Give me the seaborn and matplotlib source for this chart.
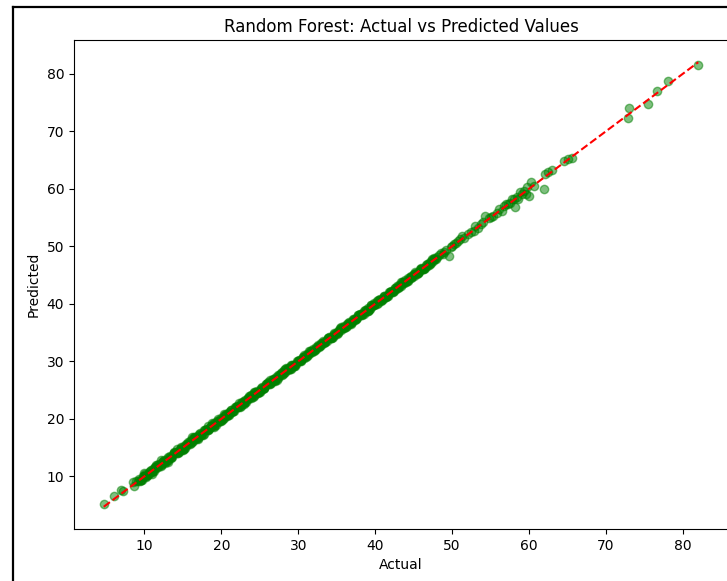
import matplotlib
matplotlib.use("Agg")
import matplotlib.pyplot as plt
from matplotlib.lines import Line2D
import seaborn as sns
import pandas as pd

actual = [
    4.7, 6.1, 7.0, 7.2, 8.5, 8.7, 8.9,
    9.3, 9.7, 10.1, 10.5, 10.9, 11.2, 11.6, 12.1, 12.4, 12.9,
    13.3, 13.6, 14.1, 14.5, 14.8, 15.3, 15.7, 16.0, 16.5, 16.9,
    17.2, 17.7, 18.1, 18.4, 18.9, 19.3, 19.6, 20.1, 20.5, 20.8,
    21.3, 21.7, 22.0, 22.5, 22.9, 23.2, 23.7, 24.1, 24.4, 24.9,
    25.3, 25.6, 26.1, 26.5, 26.8, 27.3, 27.7, 28.0, 28.5, 28.9,
    29.2, 29.7, 30.1, 30.4, 30.9, 31.3, 31.6, 32.1, 32.5, 32.8,
    33.3, 33.7, 34.0, 34.5, 34.9, 35.2, 35.7, 36.1, 36.4, 36.9,
    37.3, 37.6, 38.1, 38.5, 38.8, 39.3, 39.7, 40.0, 40.5, 40.9,
    41.2, 41.7, 42.1, 42.4, 42.9, 43.3, 43.6, 44.1, 44.5, 44.8,
    45.3, 45.7, 46.0, 46.5, 46.9, 47.2, 47.7,
    9.5, 9.9, 10.3, 10.7, 11.1, 11.4, 11.8, 12.3, 12.6, 13.1,
    13.5, 13.8, 14.3, 14.7, 15.0, 15.5, 15.9, 16.2, 16.7, 17.1,
    17.4, 17.9, 18.3, 18.6, 19.1, 19.5, 19.8, 20.3, 20.7, 21.0,
    21.5, 21.9, 22.2, 22.7, 23.1, 23.4, 23.9, 24.3, 24.6, 25.1,
    25.5, 25.8, 26.3, 26.7, 27.0, 27.5, 27.9, 28.2, 28.7, 29.1,
    29.4, 29.9, 30.3, 30.6, 31.1, 31.5, 31.8, 32.3, 32.7, 33.0,
    33.5, 33.9, 34.2, 34.7, 35.1, 35.4, 35.9, 36.3, 36.6, 37.1,
    37.5, 37.8, 38.3, 38.7, 39.0, 39.5, 39.9, 40.2, 40.7, 41.1,
    41.4, 41.9, 42.3, 42.6, 43.1, 43.5, 43.8, 44.3, 44.7, 45.0,
    45.5, 45.9, 46.2, 46.7, 47.1, 47.4, 47.9,
    9.1, 9.5, 9.9, 10.3, 10.7, 11.1, 11.5, 11.9, 12.3, 12.7,
    13.1, 13.5, 13.9, 14.3, 14.7, 15.1, 15.5, 15.9, 16.3, 16.7,
    17.1, 17.5, 17.9, 18.3, 18.7, 19.1, 19.5, 19.9, 20.3, 20.7,
    21.1, 21.5, 21.9, 22.3, 22.7, 23.1, 23.5, 23.9, 24.3, 24.7,
    25.1, 25.5, 25.9, 26.3, 26.7, 27.1, 27.5, 27.9, 28.3, 28.7,
    29.1, 29.5, 29.9, 30.3, 30.7, 31.1, 31.5, 31.9, 32.3, 32.7,
    33.1, 33.5, 33.9, 34.3, 34.7, 35.1, 35.5, 35.9, 36.3, 36.7,
    37.1, 37.5, 37.9, 38.3, 38.7, 39.1, 39.5, 39.9, 40.3, 40.7,
    41.1, 41.5, 41.9, 42.3, 42.7, 43.1, 43.5, 43.9, 44.3, 44.7,
    45.1, 45.5, 45.9, 46.3, 46.7, 47.1, 47.5,
    9.4, 9.8, 10.2, 10.6, 11.0, 11.4, 11.8, 12.2, 12.6, 13.0,
    13.4, 13.8, 14.2, 14.6, 15.0, 15.4, 15.8, 16.2, 16.6, 17.0,
    17.4, 17.8, 18.2, 18.6, 19.0, 19.4, 19.8, 20.2, 20.6, 21.0,
    21.4, 21.8, 22.2, 22.6, 23.0, 23.4, 23.8, 24.2, 24.6, 25.0,
    25.4, 25.8, 26.2, 26.6, 27.0, 27.4, 27.8, 28.2, 28.6, 29.0,
    29.4, 29.8, 30.2, 30.6, 31.0, 31.4, 31.8, 32.2, 32.6, 33.0,
    33.4, 33.8, 34.2, 34.6, 35.0, 35.4, 35.8, 36.2, 36.6, 37.0,
    37.4, 37.8, 38.2, 38.6, 39.0, 39.4, 39.8, 40.2, 40.6, 41.0,
    41.4, 41.8, 42.2, 42.6, 43.0, 43.4, 43.8, 44.2, 44.6, 45.0,
    45.4, 45.8, 46.2, 46.6, 47.0, 47.4, 47.8,
    9.9, 11.0, 12.2, 13.0, 14.2, 15.0, 16.2, 17.0, 18.3, 19.0,
    20.3, 21.0, 22.3, 23.0, 24.3, 25.0, 26.3, 27.0, 28.3, 29.0,
    10.2, 11.5, 12.7, 13.9, 15.1, 16.4, 17.6, 18.8, 20.0, 21.2,
    22.4, 23.6, 24.8, 26.0, 27.2, 28.4, 29.6, 30.8, 32.0, 33.2,
    34.4, 35.6, 36.8, 38.0, 39.2, 40.4, 41.6, 42.8, 44.0, 45.2,
    46.4, 47.6, 48.0,
    48.3, 48.8, 49.2, 49.6, 50.0, 50.3, 50.8, 51.3, 51.6, 52.4,
    53.0, 53.3, 54.0, 54.3, 54.8, 55.3, 56.1, 56.5, 57.0, 57.5,
    57.8, 58.2, 58.4, 58.8, 59.1, 59.6, 59.7, 60.0, 60.3, 60.6,
    61.9, 62.1, 62.5, 63.0, 64.5, 65.0, 65.6,
    48.6, 49.0, 49.9, 50.5, 51.0, 52.0, 52.8, 53.8, 55.0, 55.8,
    56.8, 57.3, 58.0, 58.6, 59.3,
    72.9, 73.0, 75.4, 76.6, 78.1, 82.0,
]
predicted = [
    5.2, 6.5, 7.6, 7.4, 9.0, 8.3, 9.2,
    9.5, 9.4, 10.4, 10.2, 11.1, 10.9, 11.9, 11.8, 12.7, 12.6,
    13.5, 13.3, 14.3, 14.2, 15.1, 15.0, 15.9, 15.8, 16.7, 16.6,
    17.5, 17.4, 18.3, 18.2, 19.1, 19.0, 19.9, 19.8, 20.7, 20.6,
    21.5, 21.4, 22.3, 22.2, 23.1, 23.0, 23.9, 23.8, 24.6, 24.7,
    25.5, 25.4, 26.3, 26.2, 27.0, 27.1, 27.9, 27.8, 28.7, 28.6,
    29.4, 29.5, 30.2, 30.3, 31.0, 31.1, 31.8, 31.9, 32.6, 32.7,
    33.4, 33.5, 34.2, 34.3, 35.0, 35.1, 35.8, 35.9, 36.6, 36.7,
    37.4, 37.5, 38.2, 38.3, 39.0, 39.1, 39.8, 39.9, 40.6, 40.7,
    41.4, 41.5, 42.2, 42.3, 43.0, 43.1, 43.8, 43.9, 44.6, 44.7,
    45.4, 45.5, 46.2, 46.3, 47.0, 47.1, 47.8,
    9.3, 10.1, 10.2, 10.9, 10.9, 11.7, 11.6, 12.5, 12.4, 13.3,
    13.3, 14.1, 14.1, 14.9, 14.8, 15.7, 15.7, 16.4, 16.5, 17.3,
    17.2, 18.1, 18.1, 18.8, 18.9, 19.7, 19.6, 20.5, 20.5, 21.2,
    21.3, 22.1, 22.0, 22.9, 22.9, 23.6, 23.7, 24.5, 24.4, 25.3,
    25.3, 26.0, 26.1, 26.9, 26.8, 27.7, 27.7, 28.4, 28.5, 29.3,
    29.2, 30.1, 30.1, 30.8, 30.9, 31.7, 31.6, 32.5, 32.5, 33.2,
    33.3, 34.1, 34.0, 34.9, 34.9, 35.6, 35.7, 36.5, 36.4, 37.3,
    37.3, 38.0, 38.1, 38.9, 38.8, 39.7, 39.7, 40.4, 40.5, 41.3,
    41.2, 42.1, 42.1, 42.8, 42.9, 43.7, 43.6, 44.5, 44.5, 45.2,
    45.3, 46.1, 46.0, 46.9, 46.9, 47.6, 47.7,
    9.2, 9.4, 10.1, 10.3, 10.5, 11.2, 11.4, 12.1, 12.1, 12.7,
    13.2, 13.4, 14.1, 14.3, 14.5, 15.2, 15.4, 16.1, 16.1, 16.7,
    17.2, 17.4, 18.1, 18.3, 18.5, 19.2, 19.4, 20.1, 20.1, 20.7,
    21.2, 21.4, 22.1, 22.3, 22.5, 23.2, 23.4, 24.1, 24.1, 24.7,
    25.2, 25.4, 26.1, 26.3, 26.5, 27.2, 27.4, 28.1, 28.1, 28.7,
    29.2, 29.4, 30.1, 30.3, 30.5, 31.2, 31.4, 32.1, 32.1, 32.7,
    33.2, 33.4, 34.1, 34.3, 34.5, 35.2, 35.4, 36.1, 36.1, 36.7,
    37.2, 37.4, 38.1, 38.3, 38.5, 39.2, 39.4, 40.1, 40.1, 40.7,
    41.2, 41.4, 42.1, 42.3, 42.5, 43.2, 43.4, 44.1, 44.1, 44.7,
    45.2, 45.4, 46.1, 46.3, 46.5, 47.2, 47.4,
    9.1, 10.1, 10.1, 10.7, 10.7, 11.7, 11.8, 12.0, 12.8, 12.9,
    13.1, 14.1, 14.1, 14.7, 14.7, 15.7, 15.8, 16.0, 16.8, 16.9,
    17.1, 18.1, 18.1, 18.7, 18.7, 19.7, 19.8, 20.0, 20.8, 20.9,
    21.1, 22.1, 22.1, 22.7, 22.7, 23.7, 23.8, 24.0, 24.8, 24.9,
    25.1, 26.1, 26.1, 26.7, 26.7, 27.7, 27.8, 28.0, 28.8, 28.9,
    29.1, 30.1, 30.1, 30.7, 30.7, 31.7, 31.8, 32.0, 32.8, 32.9,
    33.1, 34.1, 34.1, 34.7, 34.7, 35.7, 35.8, 36.0, 36.8, 36.9,
    37.1, 38.1, 38.1, 38.7, 38.7, 39.7, 39.8, 40.0, 40.8, 40.9,
    41.1, 42.1, 42.1, 42.7, 42.7, 43.7, 43.8, 44.0, 44.8, 44.9,
    45.1, 46.1, 46.1, 46.7, 46.7, 47.7, 47.8,
    10.5, 10.4, 12.8, 12.4, 14.8, 14.5, 16.8, 16.5, 18.8, 18.5,
    20.8, 20.6, 22.8, 22.6, 24.7, 24.6, 26.7, 26.6, 28.6, 28.7,
    9.8, 11.9, 12.3, 14.3, 14.7, 16.8, 17.2, 19.2, 19.6, 21.6,
    22.0, 24.0, 24.4, 26.4, 26.8, 28.8, 29.2, 31.1, 31.7, 33.5,
    34.1, 35.9, 36.5, 38.3, 38.9, 40.7, 41.3, 43.1, 43.7, 45.5,
    46.1, 47.9, 48.1,
    48.5, 48.6, 49.4, 48.3, 50.1, 50.4, 50.9, 51.8, 51.4, 52.5,
    53.6, 53.1, 54.3, 55.3, 55.0, 55.2, 56.5, 56.2, 57.3, 57.6,
    58.2, 56.8, 58.6, 59.4, 59.0, 59.1, 60.3, 58.8, 61.1, 60.5,
    60.0, 62.6, 62.9, 63.2, 64.8, 65.1, 65.4,
    48.9, 49.0, 49.8, 50.6, 51.2, 52.1, 52.6, 53.9, 55.1, 55.7,
    57.0, 57.4, 58.3, 58.3, 59.6,
    72.3, 74.1, 74.8, 77.0, 78.8, 81.5,
]

df = pd.DataFrame({"Actual": actual, "Predicted": predicted})

fig = plt.figure(figsize=(7.27, 5.81), dpi=100)
W, H = 727, 581
ax = fig.add_axes([74 / W, (H - 529) / H, 654 / W, 489 / H])

sns.scatterplot(data=df, x="Actual", y="Predicted", ax=ax, color="green",
                alpha=0.5, s=36, edgecolor="green", linewidth=1)
lo, hi = min(actual), max(actual)
ax.plot([lo, hi], [lo, hi], "r--", lw=1.5)

ax.set_title("Random Forest: Actual vs Predicted Values", fontsize=12)
ax.set_xlabel("Actual", fontsize=10)
ax.set_ylabel("Predicted", fontsize=10)
ax.set_xticks([10, 20, 30, 40, 50, 60, 70, 80])
ax.set_yticks([10, 20, 30, 40, 50, 60, 70, 80])
ax.tick_params(labelsize=10)

# screenshot frame
fig.add_artist(Line2D([13 / W, 13 / W], [0, 1 - 7 / H], color="black", lw=1.6))
fig.add_artist(Line2D([13 / W, 1], [1 - 7 / H, 1 - 7 / H], color="black", lw=1.6))

fig.savefig("out.png", dpi=100)
